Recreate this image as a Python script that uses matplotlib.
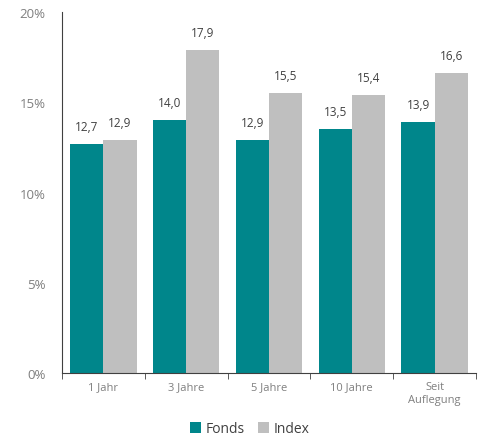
import numpy as np
import matplotlib.pyplot as plt

plt.rcParams['font.family'] = ['Open Sans', 'DejaVu Sans']

categories = ["1 Jahr", "3 Jahre", "5 Jahre", "10 Jahre", "Seit\nAuflegung"]
fonds = [12.7, 14.0, 12.9, 13.5, 13.9]
index = [12.9, 17.9, 15.5, 15.4, 16.6]

TEAL = "#00868B"
GREY = "#BFBFBF"

fig = plt.figure(figsize=(4.8, 4.39), dpi=100)
ax = fig.add_axes([62/480, 1 - 374/439, (476-62)/480, (374-13)/439])

x = np.arange(len(categories))
w = 0.4
b1 = ax.bar(x - w/2, fonds, w, color=TEAL, label="Fonds")
b2 = ax.bar(x + w/2, index, w, color=GREY, label="Index")

for bars, vals in [(b1, fonds), (b2, index)]:
    for r, v in zip(bars, vals):
        ax.annotate(f"{v:.1f}".replace(".", ","),
                    (r.get_x() + r.get_width()/2, v),
                    xytext=(0, 8), textcoords="offset points",
                    ha="center", va="bottom", fontsize=8.5, color="#404040")

ax.set_xlim(-0.5, len(categories) - 0.5)
ax.set_ylim(0, 20)
ax.set_yticks([0, 5, 10, 15, 20])
ax.set_yticklabels([f"{t}%" for t in [0, 5, 10, 15, 20]])
ax.tick_params(axis="y", length=0, labelsize=9.5, labelcolor="#7F7F7F", pad=12)

ax.set_xticks(x)
ax.set_xticklabels(categories)
ax.set_xticks(np.arange(len(categories) + 1) - 0.5, minor=True)
ax.tick_params(axis="x", which="major", length=0, labelsize=8,
               labelcolor="#7F7F7F", pad=6)
ax.tick_params(axis="x", which="minor", length=4, color="#404040")

for s in ["top", "right"]:
    ax.spines[s].set_visible(False)
ax.spines["left"].set_color("#404040")
ax.spines["bottom"].set_color("#404040")

fig.legend(loc="lower center", bbox_to_anchor=(0.52, -0.025), ncol=2,
           frameon=False, fontsize=10, handlelength=0.8, handleheight=0.8,
           handletextpad=0.3, columnspacing=1.0, labelcolor="#404040")

fig.savefig("out.png", dpi=100)
